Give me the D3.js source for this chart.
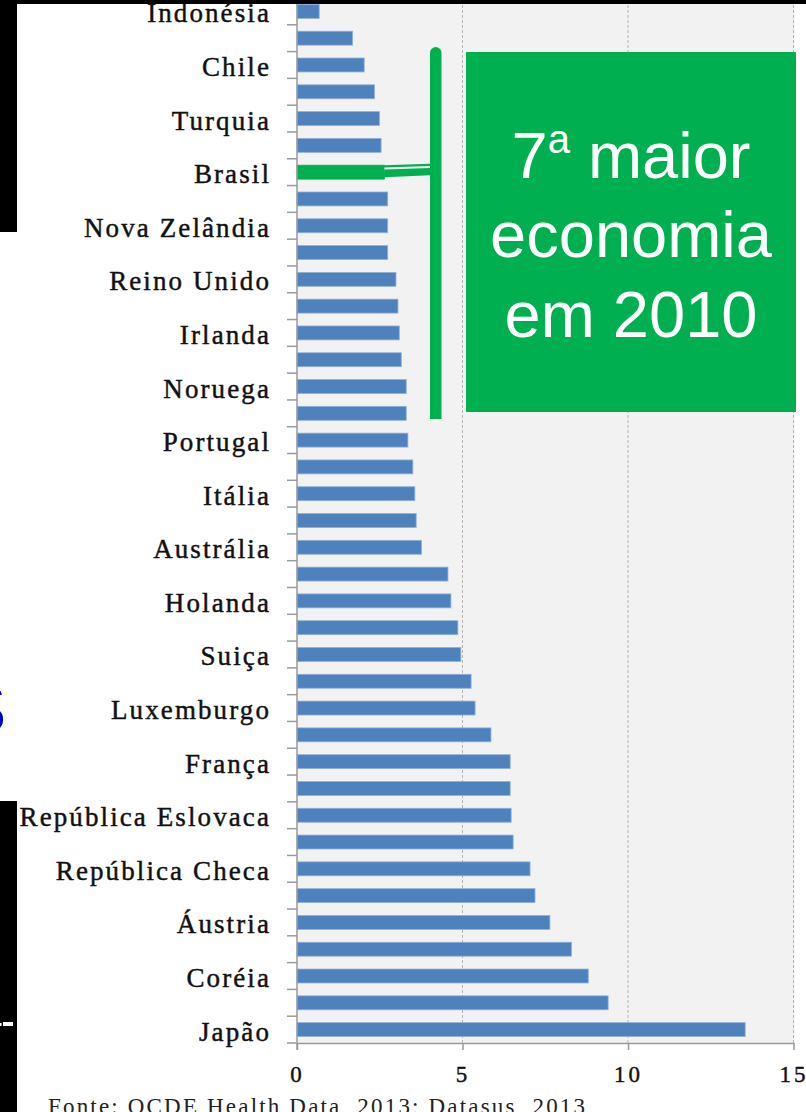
<!DOCTYPE html>
<html>
<head>
<meta charset="utf-8">
<script src="https://cdn.jsdelivr.net/npm/d3@7/dist/d3.min.js"></script>
<style>
  html, body { margin: 0; padding: 0; background: #fff; }
  svg { display: block; }
</style>
</head>
<body>
<div id="chart"></div>
<script>
// leitos hospitalares por 1000 hab., de cima para baixo
const countries = [
  'Indonésia', 'México', 'Chile', 'Suécia', 'Turquia', 'Canadá', 'Brasil',
  'Estados Unidos', 'Nova Zelândia', 'Espanha', 'Reino Unido', 'Islândia',
  'Irlanda', 'Israel', 'Noruega', 'Dinamarca', 'Portugal', 'Eslovênia',
  'Itália', 'Grécia', 'Austrália', 'Estônia', 'Holanda', 'Finlândia',
  'Suiça', 'Bélgica', 'Luxemburgo', 'Polônia', 'França', 'Hungria',
  'República Eslovaca', 'Alemanha', 'República Checa', 'Rússia', 'Áustria',
  'Canadá ', 'Coréia', 'Bulgária', 'Japão'
];
const values = [
  0.67, 1.68, 2.03, 2.34, 2.49, 2.54, 2.64,
  2.74, 2.74, 2.74, 2.99, 3.05,
  3.09, 3.15, 3.30, 3.30, 3.35, 3.50,
  3.56, 3.60, 3.76, 4.56, 4.65, 4.86,
  4.95, 5.26, 5.38, 5.86, 6.44, 6.44,
  6.47, 6.53, 7.04, 7.19, 7.64,
  8.29, 8.80, 9.40, 13.54
];
// só os rótulos visíveis no eixo
const shownLabels = [
  'Indonésia', 'Chile', 'Turquia', 'Brasil', 'Nova Zelândia', 'Reino Unido',
  'Irlanda', 'Noruega', 'Portugal', 'Itália', 'Austrália', 'Holanda', 'Suiça',
  'Luxemburgo', 'França', 'República Eslovaca', 'República Checa', 'Áustria',
  'Coréia', 'Japão'
];
const highlight = 'Brasil';
const xTicks = [0, 5, 10, 15];
const calloutLines = ['maior', 'economia', 'em 2010'];
const sourceText = 'Fonte: OCDE Health Data, 2013; Datasus, 2013';

const W = 806, H = 1112;
const data = countries.map((c, i) => ({ name: c, value: values[i] }));

const svg = d3.select('#chart').append('svg')
  .attr('width', W)
  .attr('height', H);

const x = d3.scaleLinear().domain([0, 15]).range([297, 793.5]);
const y = d3.scaleBand()
  .domain(countries)
  .range([-2, 1043])
  .paddingInner(0.48)
  .paddingOuter(0.24);

const step = y.step();
const bandStart = d => y(d) - y.paddingOuter() * step; // começo da faixa
const bottomY = 1043;
const serif = '"Liberation Serif", "Times New Roman", serif';

// fundo da área do gráfico
svg.append('rect')
  .attr('x', x(0)).attr('y', 0)
  .attr('width', x(15) - x(0) + 1)
  .attr('height', bottomY)
  .attr('fill', '#f2f2f2');

// grades verticais tracejadas
svg.append('g')
  .selectAll('line')
  .data(xTicks.slice(1))
  .join('line')
  .attr('x1', d => x(d)).attr('x2', d => x(d))
  .attr('y1', 0).attr('y2', bottomY)
  .attr('stroke', '#b4b4b4')
  .attr('stroke-width', 1)
  .attr('stroke-dasharray', '3,2');

// barras
svg.append('g')
  .selectAll('rect')
  .data(data)
  .join('rect')
  .attr('x', x(0))
  .attr('y', d => y(d.name))
  .attr('width', d => x(d.value) - x(0))
  .attr('height', y.bandwidth())
  .attr('fill', d => d.name === highlight ? '#00b050' : '#4f81bd')
  .attr('stroke', d => d.name === highlight ? '#00b050' : '#8fb0d8')
  .attr('stroke-width', 0.8);

// destaque do Brasil: conector + barra vertical + caixa
const br = data.find(d => d.name === highlight);
const brX = x(br.value), brY = y(br.name);
const lineX = 430, lineW = 11.5;
svg.append('path')
  .attr('d', `M${brX},${brY} L${lineX},${brY - 1.5} L${lineX},${brY + 10} L${brX},${brY + 12} Z`)
  .attr('fill', '#00b050');
svg.append('line')
  .attr('x1', brX).attr('y1', brY + 3.3)
  .attr('x2', lineX).attr('y2', brY + 1.8)
  .attr('stroke', '#f2f2f2')
  .attr('stroke-width', 2);
const r = lineW / 2;
svg.append('path')
  .attr('d', `M${lineX},419 V${47 + r} A${r},${r} 0 0 1 ${lineX + lineW},${47 + r} V419 Z`)
  .attr('fill', '#00b050');

svg.append('rect')
  .attr('x', 466).attr('y', 52)
  .attr('width', 330).attr('height', 360)
  .attr('fill', '#00b050');

const callout = svg.append('text')
  .attr('x', 631)
  .attr('text-anchor', 'middle')
  .attr('fill', '#fff')
  .style('font-family', '"Liberation Sans", Arial, sans-serif')
  .style('font-size', '65px');
const l1 = callout.append('tspan').attr('x', 631).attr('y', 178);
l1.append('tspan').text('7');
l1.append('tspan').text('a').style('font-size', '40px').attr('dy', -25);
l1.append('tspan').text(' ' + calloutLines[0]).attr('dy', 25);
callout.append('tspan').attr('x', 631).attr('y', 257).text(calloutLines[1]);
callout.append('tspan').attr('x', 631).attr('y', 337).text(calloutLines[2]);

// eixo vertical e marcas nas divisões das categorias
const axisColor = '#9a9a9a';
const bounds = countries.map(bandStart).concat([bottomY]);
svg.append('g')
  .selectAll('line')
  .data(bounds)
  .join('line')
  .attr('x1', x(0) - 10).attr('x2', x(0))
  .attr('y1', d => d).attr('y2', d => d)
  .attr('stroke', axisColor)
  .attr('stroke-width', 1.5);
svg.append('line')
  .attr('x1', x(0)).attr('x2', x(0))
  .attr('y1', 0).attr('y2', bottomY + 7)
  .attr('stroke', axisColor)
  .attr('stroke-width', 1.5);

// rótulos das categorias
svg.append('g')
  .selectAll('text')
  .data(shownLabels)
  .join('text')
  .attr('x', 271)
  .attr('y', d => y(d) + y.bandwidth() / 2 + 11)
  .attr('text-anchor', 'end')
  .attr('fill', '#111')
  .attr('stroke', '#111')
  .attr('stroke-width', 0.45)
  .style('font-family', serif)
  .style('font-size', '27px')
  .style('letter-spacing', '2.1px')
  .text(d => d);

// eixo horizontal
const xAxis = svg.append('g')
  .attr('transform', `translate(0,${bottomY})`)
  .call(d3.axisBottom(x).tickValues(xTicks).tickSize(7).tickSizeOuter(0).tickPadding(16));
xAxis.select('.domain').attr('stroke', axisColor).attr('stroke-width', 1.5);
xAxis.selectAll('.tick line').attr('stroke', axisColor).attr('stroke-width', 1.5);
xAxis.selectAll('.tick text')
  .attr('fill', '#111')
  .attr('stroke', '#111')
  .attr('stroke-width', 0.4)
  .style('font-family', serif)
  .style('font-size', '23px')
  .style('letter-spacing', '3px');

// fonte
svg.append('text')
  .attr('x', 48).attr('y', 1114)
  .attr('textLength', 537)
  .attr('lengthAdjust', 'spacing')
  .attr('fill', '#222')
  .style('font-family', serif)
  .style('font-size', '23px')
  .text(sourceText);

// restos do slide: faixas pretas e letra azul cortada
svg.append('rect').attr('x', 0).attr('y', 0).attr('width', W).attr('height', 4).attr('fill', '#000');
svg.append('rect').attr('x', 0).attr('y', 0).attr('width', 17).attr('height', 232).attr('fill', '#000');
svg.append('rect').attr('x', 0).attr('y', 801).attr('width', 17).attr('height', H - 801).attr('fill', '#000');
svg.append('rect').attr('x', 3).attr('y', 1022).attr('width', 10).attr('height', 4).attr('fill', '#fff');
svg.append('rect').attr('x', 0).attr('y', 1023).attr('width', 1.5).attr('height', 3).attr('fill', '#fff');
svg.append('text')
  .attr('x', -41).attr('y', 733)
  .attr('fill', '#0000cc')
  .style('font-family', '"Liberation Sans", Arial, sans-serif')
  .style('font-size', '71px')
  .text('S');
</script>
</body>
</html>
